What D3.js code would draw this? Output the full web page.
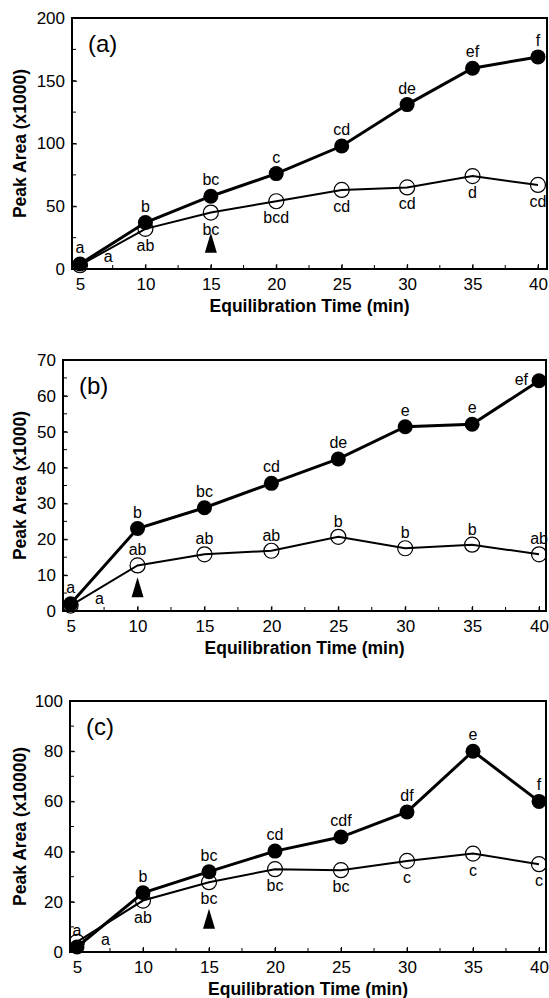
<!DOCTYPE html>
<html>
<head>
<meta charset="utf-8">
<script src="https://cdn.jsdelivr.net/npm/d3@7"></script>
<style>
  body{margin:0;background:#fff;}
  svg{display:block;font-family:"Liberation Sans",Arial,Helvetica,sans-serif;}
</style>
</head>
<body>
<svg id="chart" width="549" height="998"></svg>
<script>
// equilibration times (min)
var times = [5, 10, 15, 20, 25, 30, 35, 40];
var xTicks = [5, 10, 15, 20, 25, 30, 35, 40];

// panel (a)
var aFilled = [4, 37, 58, 76, 98, 131, 160, 169];
var aOpen = [3, 32, 45, 54, 63, 65, 74, 67];
var aFilledLbl = ["a", "b", "bc", "c", "cd", "de", "ef", "f"];
var aOpenLbl = ["a", "ab", "bc", "bcd", "cd", "cd", "d", "cd"];
var aYTicks = [0, 50, 100, 150, 200];

// panel (b)
var bFilled = [2, 23, 28.8, 35.6, 42.4, 51.4, 52.1, 64.2];
var bOpen = [1.5, 12.7, 15.8, 16.8, 20.7, 17.5, 18.5, 15.8];
var bFilledLbl = ["a", "b", "bc", "cd", "de", "e", "e", "ef"];
var bOpenLbl = ["a", "ab", "ab", "ab", "b", "b", "b", "ab"];
var bYTicks = [0, 10, 20, 30, 40, 50, 60, 70];

// panel (c)
var cFilled = [2, 23.6, 32, 40.2, 45.8, 55.8, 80, 60];
var cOpen = [4, 20.5, 27.8, 33, 32.6, 36.3, 39.2, 35];
var cFilledLbl = ["a", "b", "bc", "cd", "cdf", "df", "e", "f"];
var cOpenLbl = ["a", "ab", "bc", "bc", "bc", "c", "c", "c"];
var cYTicks = [0, 20, 40, 60, 80, 100];

var panels = [
  {tag:"(a)", yTitle:"Peak Area (x1000)", filled:aFilled, open:aOpen, fl:aFilledLbl, ol:aOpenLbl,
   yTicks:aYTicks, yMinor:25, yMax:200, xDom:[4.39, 40.69], arrowAt:15, arrowBase:13,
   openAbove:false, left:72, top:18, w:475, h:251},
  {tag:"(b)", yTitle:"Peak Area (x1000)", filled:bFilled, open:bOpen, fl:bFilledLbl, ol:bOpenLbl,
   yTicks:bYTicks, yMinor:5, yMax:70, xDom:[4.43, 40.52], arrowAt:10, arrowBase:3.8,
   openAbove:true, left:63, top:360, w:483, h:251},
  {tag:"(c)", yTitle:"Peak Area (x10000)", filled:cFilled, open:cOpen, fl:cFilledLbl, ol:cOpenLbl,
   yTicks:cYTicks, yMinor:10, yMax:100, xDom:[4.47, 40.53], arrowAt:15, arrowBase:9.3,
   openAbove:false, left:70, top:701, w:476, h:251}
];

var svg = d3.select("#chart");

panels.forEach(function(p){
  var g = svg.append("g").attr("transform", "translate(" + p.left + "," + p.top + ")");
  var x = d3.scaleLinear().domain(p.xDom).range([0, p.w]);
  var y = d3.scaleLinear().domain([0, p.yMax]).range([p.h, 0]);

  // minor ticks
  var xMinor = d3.range(5, 40.01, 2.5);
  var yMinor = d3.range(0, p.yMax + 0.01, p.yMinor);
  g.append("g").selectAll("line").data(xMinor).enter().append("line")
    .attr("x1", function(d){return x(d);}).attr("x2", function(d){return x(d);})
    .attr("y1", p.h).attr("y2", p.h - 4)
    .attr("stroke", "#000").attr("stroke-width", 1);
  g.append("g").selectAll("line").data(yMinor).enter().append("line")
    .attr("x1", 0).attr("x2", 4)
    .attr("y1", function(d){return y(d);}).attr("y2", function(d){return y(d);})
    .attr("stroke", "#000").attr("stroke-width", 1);

  // axes
  var xAxis = g.append("g").attr("transform", "translate(0," + p.h + ")")
    .call(d3.axisBottom(x).tickValues(xTicks).tickSizeInner(-5).tickSizeOuter(0).tickPadding(9));
  var yAxis = g.append("g")
    .call(d3.axisLeft(y).tickValues(p.yTicks).tickSizeInner(-5).tickSizeOuter(0).tickPadding(7));
  [xAxis, yAxis].forEach(function(a){
    a.select(".domain").remove();
    a.selectAll("text").attr("font-size", 17).attr("fill", "#000").attr("font-family", null);
    a.selectAll("line").attr("stroke", "#000");
  });

  // frame
  g.append("rect").attr("x", 0).attr("y", 0).attr("width", p.w).attr("height", p.h)
    .attr("fill", "none").attr("stroke", "#000").attr("stroke-width", 2);

  // titles
  g.append("text").attr("x", p.w / 2).attr("y", p.h + 43).attr("text-anchor", "middle")
    .attr("font-size", 17.5).attr("font-weight", "bold").text("Equilibration Time (min)");
  g.append("text").attr("transform", "translate(" + (20 - p.left + 6) + "," + (p.h / 2) + ") rotate(-90)")
    .attr("text-anchor", "middle").attr("font-size", 17.5).attr("font-weight", "bold").text(p.yTitle);
  g.append("text").attr("x", 16).attr("y", 34).attr("font-size", 24).text(p.tag);

  var line = d3.line().x(function(d, i){return x(times[i]);}).y(function(d){return y(d);});

  // open series
  g.append("path").datum(p.open).attr("d", line).attr("fill", "none")
    .attr("stroke", "#000").attr("stroke-width", 2);
  g.append("g").selectAll("circle").data(p.open).enter().append("circle")
    .attr("cx", function(d, i){return x(times[i]);}).attr("cy", function(d){return y(d);})
    .attr("r", 7.5).attr("fill", "none").attr("stroke", "#000").attr("stroke-width", 1.2);

  // filled series
  g.append("path").datum(p.filled).attr("d", line).attr("fill", "none")
    .attr("stroke", "#000").attr("stroke-width", 3);
  g.append("g").selectAll("circle").data(p.filled).enter().append("circle")
    .attr("cx", function(d, i){return x(times[i]);}).attr("cy", function(d){return y(d);})
    .attr("r", 7.5).attr("fill", "#000");

  // letter labels
  var lg = g.append("g").attr("font-size", 16).attr("fill", "#000");
  p.fl.forEach(function(t, i){
    var tx = lg.append("text").text(t);
    if (p.tag === "(b)" && i === times.length - 1) {
      tx.attr("x", x(times[i]) - 11).attr("y", y(p.filled[i]) + 4).attr("text-anchor", "end");
    } else {
      tx.attr("x", x(times[i])).attr("y", y(p.filled[i]) - 11).attr("text-anchor", "middle");
    }
  });
  p.ol.forEach(function(t, i){
    var tx = lg.append("text").text(t).attr("text-anchor", "middle");
    if (i === 0) {
      tx.attr("x", x(7.15)).attr("y", p.h - 7);
    } else if (p.openAbove) {
      tx.attr("x", x(times[i])).attr("y", y(p.open[i]) - 10);
    } else {
      tx.attr("x", x(times[i])).attr("y", y(p.open[i]) + 22);
    }
  });

  // arrow marking the selected time
  var ax = x(p.arrowAt), ab = y(p.arrowBase);
  g.append("path").attr("d", "M" + (ax - 6) + "," + ab + "L" + (ax + 6) + "," + ab + "L" + ax + "," + (ab - 20) + "Z")
    .attr("fill", "#000");
});
</script>
</body>
</html>
